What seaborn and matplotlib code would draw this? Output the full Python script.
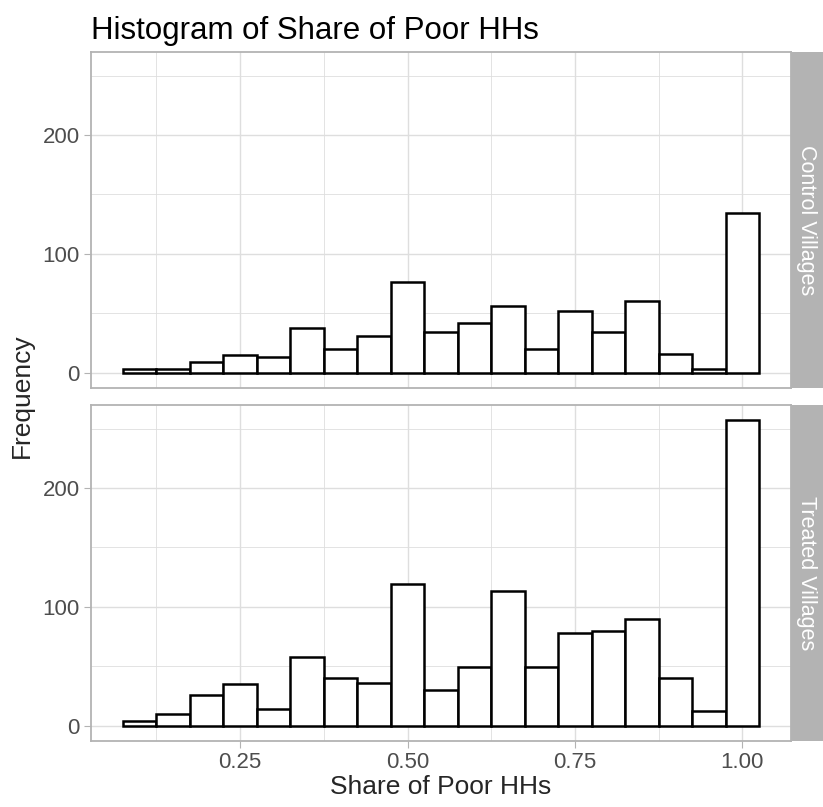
import matplotlib
matplotlib.use("Agg")
import matplotlib.pyplot as plt
import seaborn as sns
import pandas as pd

# bin centres (binwidth 0.05) and counts per facet
share_bins = [0.10, 0.15, 0.20, 0.25, 0.30, 0.35, 0.40, 0.45, 0.50, 0.55,
              0.60, 0.65, 0.70, 0.75, 0.80, 0.85, 0.90, 0.95, 1.00]
control_counts = [3, 3, 9, 15, 13, 38, 20, 31, 76, 34,
                  42, 56, 20, 52, 34, 60, 16, 3, 134]
treated_counts = [4, 10, 26, 35, 14, 58, 40, 36, 119, 30,
                  49, 113, 49, 78, 80, 90, 40, 12, 257]
panel_names = ["Control Villages", "Treated Villages"]
x_ticks = [0.25, 0.50, 0.75, 1.00]
x_ticklabels = ["0.25", "0.50", "0.75", "1.00"]
y_ticks = [0, 100, 200]

sns.set_theme(style="white")
plt.rcParams['font.family'] = ['Liberation Sans', 'DejaVu Sans']

fig = plt.figure(figsize=(8.23, 8.07), dpi=100)

W, H = 823, 807
def px_axes(x0, y0, x1, y1):
    return fig.add_axes([x0 / W, 1 - y1 / H, (x1 - x0) / W, (y1 - y0) / H])

ymax = max(max(control_counts), max(treated_counts))
panels = [(52, 388, control_counts), (405, 741, treated_counts)]

for i, ((top, bot, counts), name) in enumerate(zip(panels, panel_names)):
    ax = px_axes(91, top, 791, bot)
    df = pd.DataFrame({"share": share_bins, "n": counts})
    sns.histplot(data=df, x="share", weights="n", binwidth=0.05,
                 binrange=(0.075, 1.025), ax=ax, color="white",
                 edgecolor="black", linewidth=1.8, alpha=1)
    ax.set_xlim(0.075 - 0.0475, 1.025 + 0.0475)
    ax.set_ylim(-0.05 * ymax, 1.05 * ymax)
    ax.set_xticks(x_ticks)
    ax.set_xticks([0.125, 0.375, 0.625, 0.875], minor=True)
    ax.set_yticks(y_ticks)
    ax.set_yticks([50, 150, 250], minor=True)
    ax.grid(which="major", color="#DEDEDE", linewidth=1.0)
    ax.grid(which="minor", color="#DEDEDE", linewidth=0.6)
    ax.set_axisbelow(True)
    for sp in ax.spines.values():
        sp.set_color("#B3B3B3")
        sp.set_linewidth(1.3)
    ax.tick_params(which="major", length=5, width=0.8, color="#B3B3B3",
                   labelsize=16, labelcolor="#4D4D4D", pad=3,
                   left=True, bottom=(i == 1))
    ax.tick_params(which="minor", length=0)
    ax.set_ylabel("")
    ax.set_xlabel("")
    if i == 0:
        ax.set_xticklabels([])
        ax.set_title("Histogram of Share of Poor HHs", loc="left",
                     fontsize=22.5, pad=9, color="black")
    else:
        ax.set_xticklabels(x_ticklabels)
        ax.set_xlabel("Share of Poor HHs", fontsize=19, labelpad=1)

    # facet strip on the right
    sax = px_axes(791, top, 823, bot)
    sax.set_facecolor("#B3B3B3")
    sax.set_xticks([])
    sax.set_yticks([])
    for sp in sax.spines.values():
        sp.set_visible(False)
    sax.text(0.5, 0.5, name, rotation=-90, color="white", fontsize=15.5,
             ha="center", va="center", transform=sax.transAxes)

fig.text(22 / W, 1 - 396 / H, "Frequency", rotation=90, fontsize=19,
         ha="center", va="center")

fig.savefig("out.png", dpi=100)
